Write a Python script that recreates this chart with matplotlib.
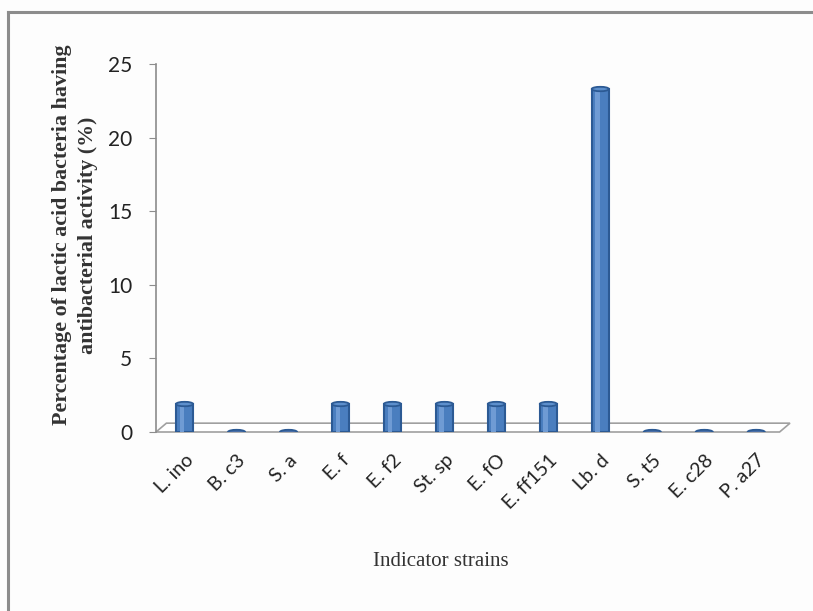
import matplotlib
matplotlib.use("Agg")
import matplotlib.pyplot as plt
from matplotlib.patches import Polygon, Ellipse
from matplotlib.lines import Line2D

strains = ["L. ino", "B. c3", "S. a", "E. f", "E. f2", "St. sp", "E. fO",
           "E. ff151", "Lb. d", "S. t5", "E. c28", "P. a27"]
percent = [1.9, 0, 0, 1.9, 1.9, 1.9, 1.9, 1.9, 23.3, 0, 0, 0]
yticks = [0, 5, 10, 15, 20, 25]

fig = plt.figure(figsize=(8.13, 6.11), dpi=100)
fig.patch.set_facecolor("#fdfdfd")

# outer frame (top and left visible)
fig.add_artist(Line2D([8/813, 8/813], [0, 1 - 12/611], transform=fig.transFigure,
                      color="#8c8c8c", lw=2.2))
fig.add_artist(Line2D([8/813, 1], [1 - 12/611, 1 - 12/611], transform=fig.transFigure,
                      color="#8c8c8c", lw=2.2))

ax = fig.add_axes([156/813, (611-432)/611, (790-156)/813, (432-64)/611])
ax.set_facecolor("none")
xmin, xmax = -0.55, 11.65
ax.set_xlim(xmin, xmax)
ax.set_ylim(0, 25)

# 3D-like floor
depth_y = 0.6
depth_x = 0.2
floor = Polygon([(xmin, 0), (xmin + depth_x, depth_y), (xmax, depth_y), (xmax - depth_x, 0)],
                closed=True, facecolor="white", edgecolor="#a0a0a0", lw=1.2,
                clip_on=False, zorder=1)
ax.add_patch(floor)

bw = 0.33
x = list(range(len(strains)))
ax.bar(x, percent, width=bw, color="#4a7ebf", edgecolor="#2c5a94", lw=1.5, zorder=3)
# highlight on bars for cylinder look
ax.bar([i - 0.05 for i in x], percent, width=0.09, color="#6f9bd4", lw=0, zorder=4)
# elliptical cylinder caps
cap_h = 0.3
for xi, v in zip(x, percent):
    ax.add_patch(Ellipse((xi, v), bw, cap_h, facecolor="#5d8fcc" if v > 0 else "#4a6fa8",
                         edgecolor="#2c5a94", lw=1.3, zorder=5))

for s in ["top", "right", "bottom"]:
    ax.spines[s].set_visible(False)
ax.spines["left"].set_color("#8c8c8c")
ax.spines["left"].set_linewidth(1.2)

ax.set_yticks(yticks)
ax.set_yticklabels([str(v) for v in yticks], fontsize=15, family="Lato", color="#222222")
ax.tick_params(axis="y", direction="out", length=5, color="#8c8c8c", pad=12)

ax.set_xticks(x)
ax.set_xticklabels(strains, rotation=45, ha="right", rotation_mode="anchor",
                   fontsize=14, family="Lato", color="#222222")
ax.tick_params(axis="x", length=0, pad=14)

ax.set_ylabel("Percentage of lactic acid bacteria having\nantibacterial activity (%)",
              family="Liberation Serif", fontsize=15.8, fontweight="bold", color="#333333",
              linespacing=1.4)
ax.yaxis.set_label_coords(-0.092, 0.535)
ax.set_xlabel("Indicator strains", family="Liberation Serif", fontsize=15,
              color="#333333")
ax.xaxis.set_label_coords(0.45, -0.325)

fig.savefig("out.png", dpi=100, facecolor=fig.get_facecolor())
